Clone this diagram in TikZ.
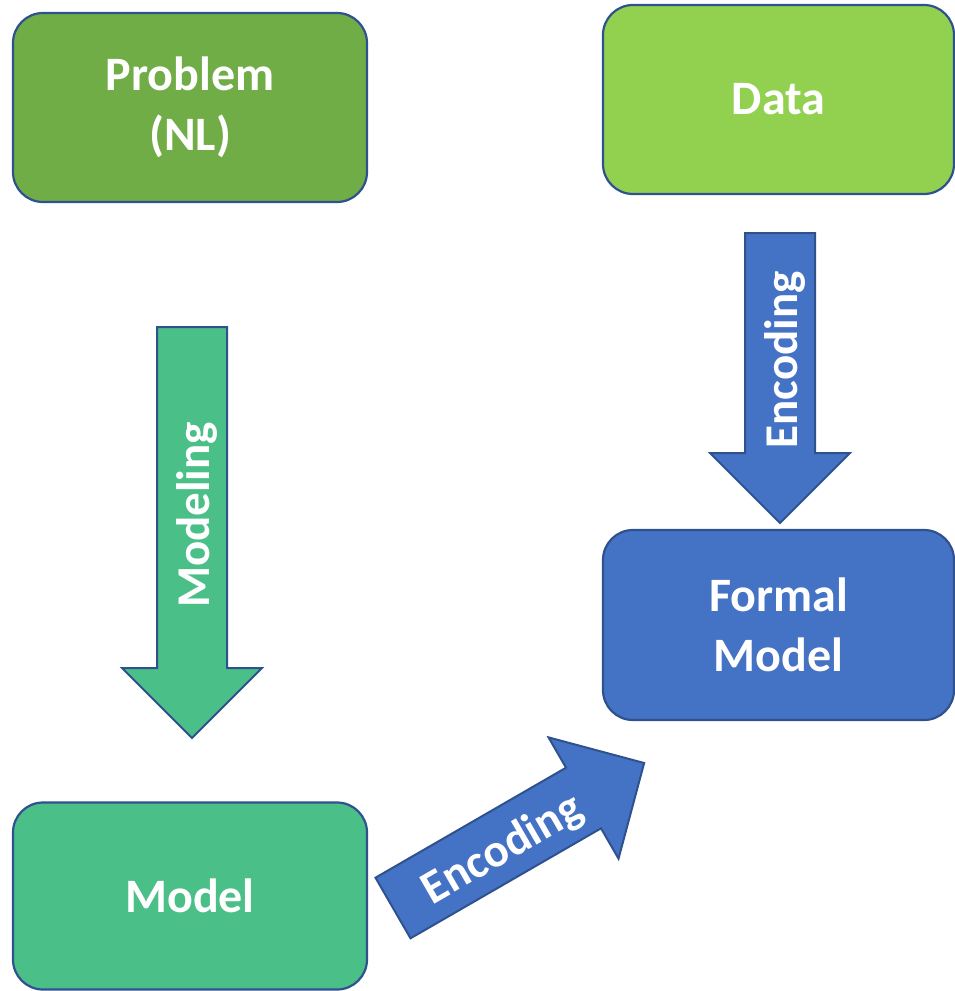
\documentclass[tikz,border=0pt]{standalone}
\usepackage{fontspec}
\setmainfont{Carlito}
\definecolor{probgreen}{HTML}{70AD47}
\definecolor{datagreen}{HTML}{92D050}
\definecolor{modelgreen}{HTML}{4ABF88}
\definecolor{formalblue}{HTML}{4472C4}
\definecolor{edgeblue}{HTML}{2F528F}
\begin{document}
\begin{tikzpicture}[x=1pt,y=1pt,
  box/.style={rectangle, rounded corners=30pt, draw=edgeblue, line width=2.2pt,
    text=white, font=\fontsize{48}{60}\selectfont\bfseries, align=center,
    inner sep=0pt},
  blockarrow/.style={draw=edgeblue, line width=2pt, line join=miter},
  arrowlabel/.style={text=white, font=\fontsize{47}{58}\selectfont\bfseries, inner sep=0pt}
]
\useasboundingbox (0,0) rectangle (954,-991);

% boxes
\node[box, fill=probgreen, minimum width=354pt, minimum height=189pt] (problem) at (190,-107.5) {Problem\\(NL)};
\node[box, fill=datagreen, minimum width=351pt, minimum height=189pt] (data) at (778.5,-99.5) {Data};
\node[box, fill=formalblue, minimum width=351pt, minimum height=190pt] (formal) at (778.5,-625) {Formal\\Model};
\node[box, fill=modelgreen, minimum width=354pt, minimum height=187pt] (model) at (190,-896) {Model};

% block arrow: shaft half-width 35, head half-width 70, head length 70
\newcommand\blockarrowpath[1]{%
  (0,-35) -- (#1-70,-35) -- (#1-70,-70) -- (#1,0) -- (#1-70,70) -- (#1-70,35) -- (0,35) -- cycle}

% Modeling: problem -> model
\coordinate (modstart) at (192,-327);
\begin{scope}[shift={(modstart)}, rotate=-90]
  \draw[blockarrow, fill=modelgreen] \blockarrowpath{411};
\end{scope}
\node[arrowlabel, rotate=90] (modlabel) at (197,-515) {Modeling};

% Encoding: data -> formal model
\coordinate (encstart) at (780,-233);
\begin{scope}[shift={(encstart)}, rotate=-90]
  \draw[blockarrow, fill=formalblue] \blockarrowpath{290};
\end{scope}
\node[arrowlabel, rotate=90] (enclabel) at (785,-360) {Encoding};

% Encoding: model -> formal model
\coordinate (diagstart) at (393,-908);
\begin{scope}[shift={(diagstart)}, rotate=30]
  \draw[blockarrow, fill=formalblue] \blockarrowpath{290};
\end{scope}
\node[arrowlabel, rotate=30] (diaglabel) at (503,-850) {Encoding};
\end{tikzpicture}
\end{document}
